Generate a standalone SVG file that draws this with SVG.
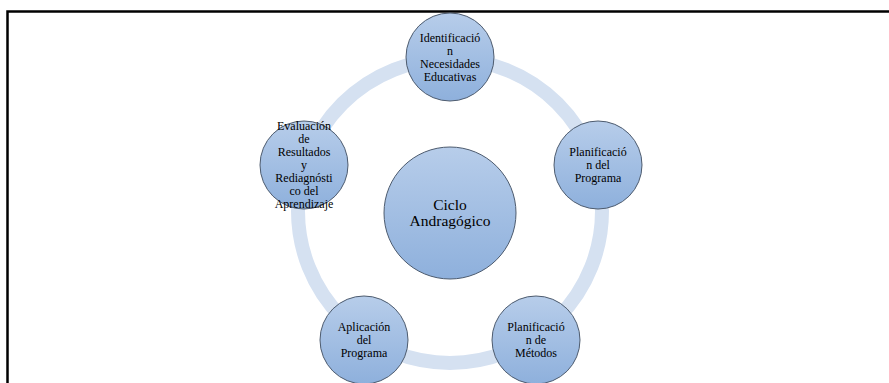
<svg xmlns="http://www.w3.org/2000/svg" width="889" height="383" viewBox="0 0 889 383">
<defs>
<linearGradient id="g" x1="0" y1="0" x2="0" y2="1">
<stop offset="0" stop-color="#b7cdea"/>
<stop offset="1" stop-color="#8eb0dc"/>
</linearGradient>
<style>
.n{fill:url(#g);stroke:#4d5b6e;stroke-width:1}
.t{font-family:"Liberation Serif","Times New Roman",serif;font-size:12px;fill:#000;text-anchor:middle}
.c{font-family:"Liberation Serif","Times New Roman",serif;font-size:15.5px;fill:#000;text-anchor:middle}
</style>
</defs>
<rect width="889" height="383" fill="#fff"/>
<rect x="7.5" y="11.5" width="900" height="400" fill="none" stroke="#000" stroke-width="2.5"/>
<g id="connectors">
<circle cx="450" cy="211" r="152" fill="none" stroke="#d5e1f1" stroke-width="14"/>
</g>
<g id="center">
<circle class="n" cx="450" cy="213" r="66"/>
<text class="c" x="450" y="210">Ciclo</text>
<text class="c" x="450" y="226">Andragógico</text>
</g>
<g id="n1">
<circle class="n" cx="450" cy="57" r="44"/>
<text class="t" x="450" y="42">Identificació</text>
<text class="t" x="450" y="55">n</text>
<text class="t" x="450" y="68">Necesidades</text>
<text class="t" x="450" y="81">Educativas</text>
</g>
<g id="n2">
<circle class="n" cx="598" cy="165" r="44"/>
<text class="t" x="598" y="156">Planificació</text>
<text class="t" x="598" y="169">n del</text>
<text class="t" x="598" y="182">Programa</text>
</g>
<g id="n3">
<circle class="n" cx="536" cy="340" r="44"/>
<text class="t" x="536" y="331">Planificació</text>
<text class="t" x="536" y="344">n de</text>
<text class="t" x="536" y="357">Métodos</text>
</g>
<g id="n4">
<circle class="n" cx="364" cy="340" r="44"/>
<text class="t" x="364" y="331">Aplicación</text>
<text class="t" x="364" y="344">del</text>
<text class="t" x="364" y="357">Programa</text>
</g>
<g id="n5">
<circle class="n" cx="304" cy="165" r="44"/>
<text class="t" x="304" y="130">Evaluación</text>
<text class="t" x="304" y="143">de</text>
<text class="t" x="304" y="156">Resultados</text>
<text class="t" x="304" y="169">y</text>
<text class="t" x="304" y="182">Rediagnósti</text>
<text class="t" x="304" y="195">co del</text>
<text class="t" x="304" y="208">Aprendizaje</text>
</g>
</svg>
